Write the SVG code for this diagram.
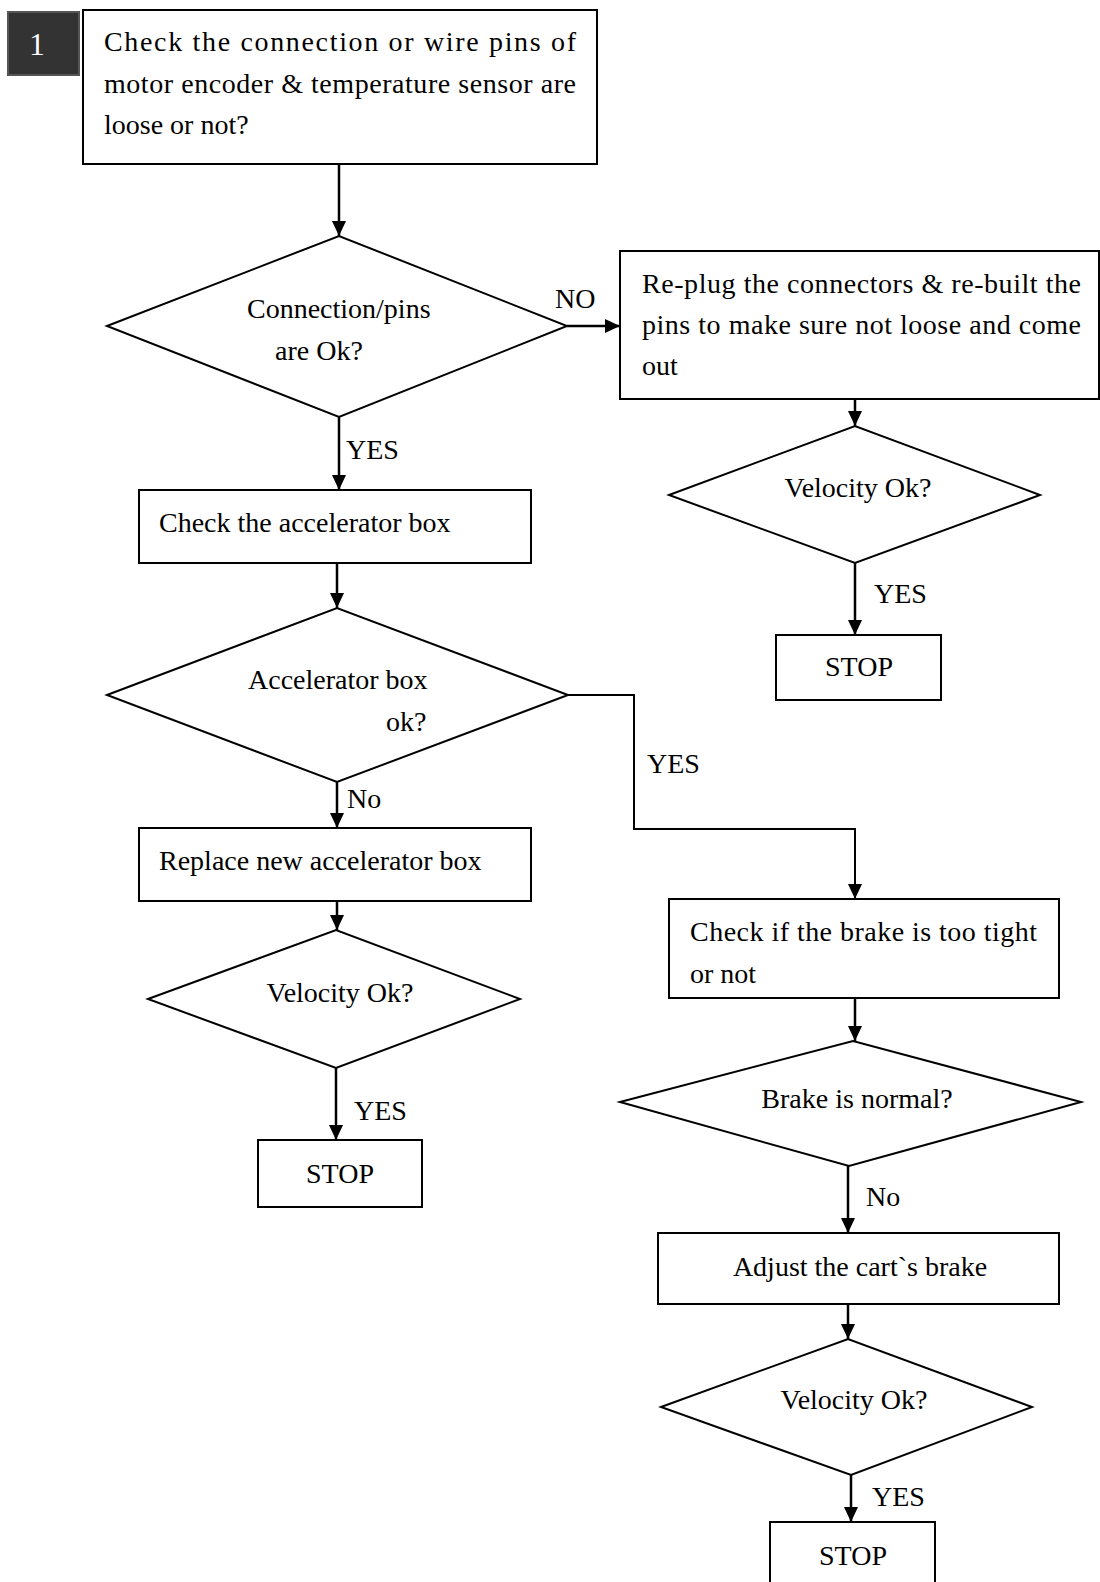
<svg xmlns="http://www.w3.org/2000/svg" width="1100" height="1582" viewBox="0 0 1100 1582">
<style>
.box{fill:#fff;stroke:#000;stroke-width:2}
.t{font-family:"Liberation Serif","Times New Roman",serif;font-size:28px;fill:#000}
.c{text-anchor:middle}
.ln{fill:none;stroke:#000;stroke-width:2.5}
</style>
<defs>
<marker id="ah" markerUnits="userSpaceOnUse" markerWidth="15" markerHeight="14" refX="15" refY="7" orient="auto">
<path d="M0,0 L15,7 L0,14 z" fill="#000"/>
</marker>
</defs>
<rect width="1100" height="1582" fill="#fff"/>
<g id="step-badge">
<rect x="8" y="12" width="71" height="63" fill="#333" stroke="#555" stroke-width="2"/>
<text class="t c" x="37" y="55" style="fill:#fff;font-size:31px">1</text>
</g>
<g id="n-check-pins">
<rect class="box" x="83" y="10" width="514" height="154"/>
<text class="t" x="104" y="51" textLength="472" lengthAdjust="spacing">Check the connection or wire pins of</text>
<text class="t" x="104" y="93" textLength="472" lengthAdjust="spacing">motor encoder &amp; temperature sensor are</text>
<text class="t" x="104" y="134">loose or not?</text>
</g>
<g id="n-pins-ok">
<polygon class="box" points="107,326 339,236 567,326 339,417"/>
<text class="t" x="247" y="318">Connection/pins</text>
<text class="t" x="275" y="360">are Ok?</text>
</g>
<g id="n-replug">
<rect class="box" x="620" y="251" width="479" height="148"/>
<text class="t" x="642" y="293" textLength="439" lengthAdjust="spacing">Re-plug the connectors &amp; re-built the</text>
<text class="t" x="642" y="334" textLength="439" lengthAdjust="spacing">pins to make sure not loose and come</text>
<text class="t" x="642" y="375">out</text>
</g>
<g id="n-vel1">
<polygon class="box" points="669,495 855,426 1040,495 855,563"/>
<text class="t c" x="858" y="497">Velocity Ok?</text>
</g>
<g id="n-stop1">
<rect class="box" x="776" y="635" width="165" height="65"/>
<text class="t c" x="859" y="676">STOP</text>
</g>
<g id="n-check-acc">
<rect class="box" x="139" y="490" width="392" height="73"/>
<text class="t" x="159" y="532">Check the accelerator box</text>
</g>
<g id="n-acc-ok">
<polygon class="box" points="107,695 337,608 568,695 337,782"/>
<text class="t" x="248" y="689">Accelerator box</text>
<text class="t" x="386" y="731">ok?</text>
</g>
<g id="n-replace-acc">
<rect class="box" x="139" y="828" width="392" height="73"/>
<text class="t" x="159" y="870">Replace new accelerator box</text>
</g>
<g id="n-vel2">
<polygon class="box" points="148,999 336,930 520,999 336,1068"/>
<text class="t c" x="340" y="1002">Velocity Ok?</text>
</g>
<g id="n-stop2">
<rect class="box" x="258" y="1140" width="164" height="67"/>
<text class="t c" x="340" y="1183">STOP</text>
</g>
<g id="n-check-brake">
<rect class="box" x="669" y="899" width="390" height="99"/>
<text class="t" x="690" y="941" textLength="347" lengthAdjust="spacing">Check if the brake is too tight</text>
<text class="t" x="690" y="983">or not</text>
</g>
<g id="n-brake-ok">
<polygon class="box" points="620,1102 853,1041 1081,1102 849,1166"/>
<text class="t c" x="857" y="1108">Brake is normal?</text>
</g>
<g id="n-adjust">
<rect class="box" x="658" y="1233" width="401" height="71"/>
<text class="t c" x="860" y="1276">Adjust the cart`s brake</text>
</g>
<g id="n-vel3">
<polygon class="box" points="661,1407 848,1339 1032,1407 851,1475"/>
<text class="t c" x="854" y="1409">Velocity Ok?</text>
</g>
<g id="n-stop3">
<rect class="box" x="770" y="1522" width="165" height="80"/>
<text class="t c" x="853" y="1565">STOP</text>
</g>
<g id="connectors">
<line class="ln" x1="339" y1="164" x2="339" y2="236" marker-end="url(#ah)"/>
<line class="ln" x1="567" y1="326" x2="620" y2="326" marker-end="url(#ah)"/>
<text class="t" x="555" y="308">NO</text>
<line class="ln" x1="855" y1="399" x2="855" y2="426" marker-end="url(#ah)"/>
<line class="ln" x1="855" y1="563" x2="855" y2="635" marker-end="url(#ah)"/>
<text class="t" x="874" y="603">YES</text>
<line class="ln" x1="339" y1="417" x2="339" y2="490" marker-end="url(#ah)"/>
<text class="t" x="346" y="459">YES</text>
<line class="ln" x1="337" y1="563" x2="337" y2="608" marker-end="url(#ah)"/>
<polyline class="ln" points="568,695 634,695 634,829 855,829 855,899" marker-end="url(#ah)" style="stroke-width:2"/>
<text class="t" x="647" y="773">YES</text>
<line class="ln" x1="337" y1="782" x2="337" y2="828" marker-end="url(#ah)"/>
<text class="t" x="347" y="808">No</text>
<line class="ln" x1="337" y1="901" x2="337" y2="930" marker-end="url(#ah)"/>
<line class="ln" x1="336" y1="1068" x2="336" y2="1140" marker-end="url(#ah)"/>
<text class="t" x="354" y="1120">YES</text>
<line class="ln" x1="855" y1="998" x2="855" y2="1041" marker-end="url(#ah)"/>
<line class="ln" x1="848" y1="1166" x2="848" y2="1233" marker-end="url(#ah)"/>
<text class="t" x="866" y="1206">No</text>
<line class="ln" x1="848" y1="1304" x2="848" y2="1339" marker-end="url(#ah)"/>
<line class="ln" x1="851" y1="1475" x2="851" y2="1522" marker-end="url(#ah)"/>
<text class="t" x="872" y="1506">YES</text>
</g>
</svg>
